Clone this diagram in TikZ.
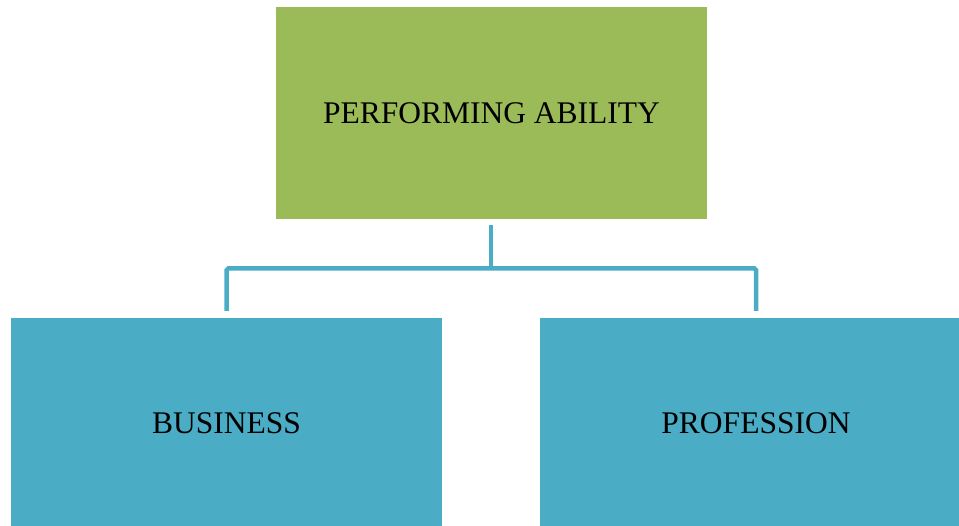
\documentclass[tikz,border=0pt]{standalone}
\usepackage{fontspec}
\setmainfont{Liberation Serif}
\definecolor{leafgreen}{HTML}{9BBB59}
\definecolor{tealblue}{HTML}{4BACC6}
\begin{document}
\begin{tikzpicture}[x=1pt,y=-1pt,
  box/.style={draw=none,minimum width=431pt,minimum height=212pt,inner sep=0pt,
              font=\fontsize{31.5}{36}\selectfont,text=black},
  link/.style={draw=tealblue,line width=4.5pt,rounded corners=1.5pt}]
\useasboundingbox (0,0) rectangle (959,526);
\node[box,fill=leafgreen] (top) at (491.5,113) {PERFORMING ABILITY};
\node[box,fill=tealblue,minimum height=210pt] (biz) at (226.5,423) {BUSINESS};
\node[box,fill=tealblue,minimum width=432pt,minimum height=210pt] (prof) at (756,423) {PROFESSION};
\coordinate (hub) at (491,268.5);
\draw[link] (491,225) -- (hub);
\draw[link] (226.7,311) -- (226.7,268.5) -- (756,268.5) -- (756,311);
\end{tikzpicture}
\end{document}
